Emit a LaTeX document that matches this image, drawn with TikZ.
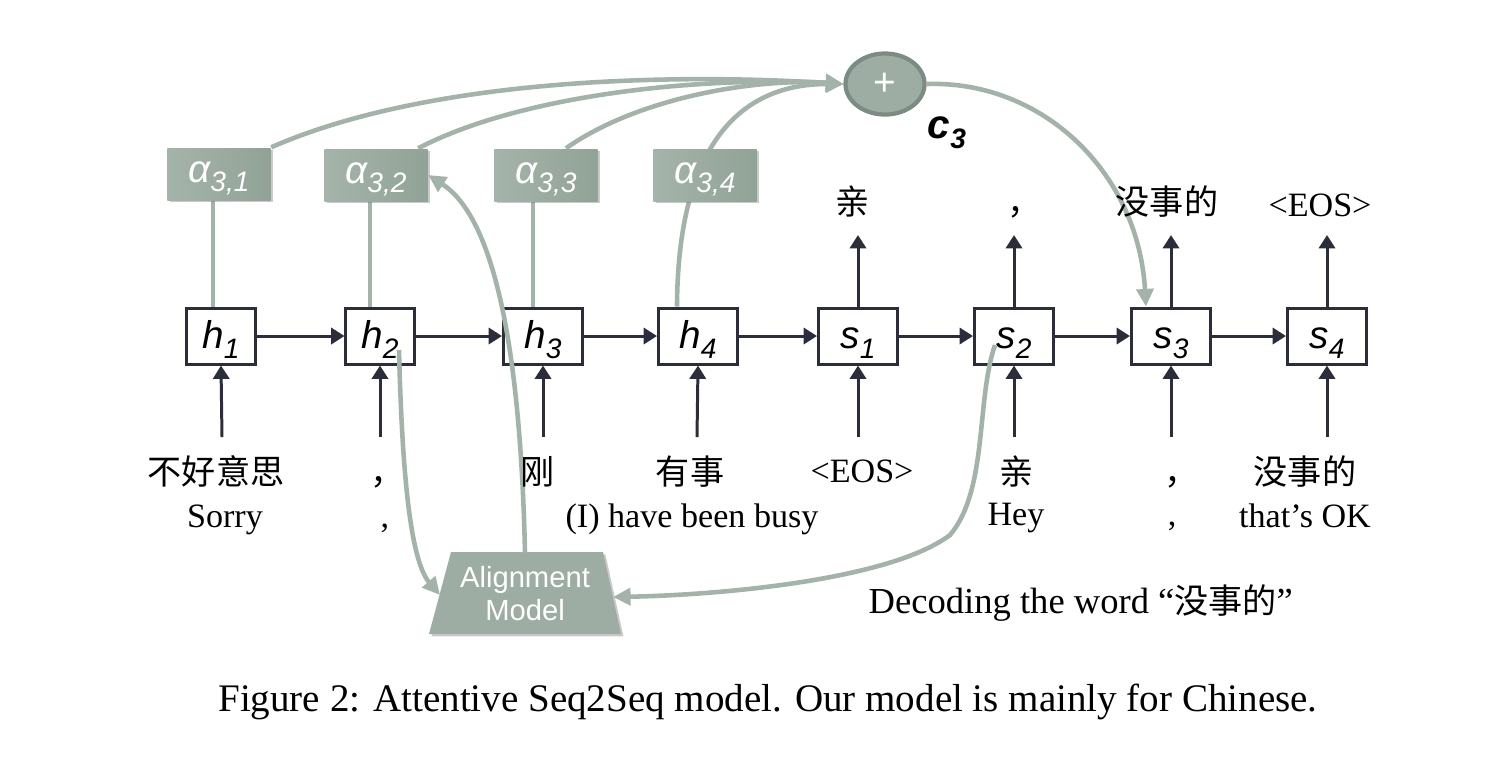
\documentclass[tikz,border=0pt]{standalone}
\usepackage{fontspec}
\setmainfont{Liberation Serif}
\setsansfont{Liberation Sans}
\newfontfamily\cjk{Noto Sans CJK SC}
\usetikzlibrary{arrows.meta,shadows,shapes.geometric}
\definecolor{dk}{HTML}{2B2E3A}
\definecolor{gl}{HTML}{A3B3A9}
\definecolor{gf}{HTML}{9DADA3}
\definecolor{gfl}{HTML}{A5B4AA}
\definecolor{gfd}{HTML}{91A297}
\definecolor{gb}{HTML}{7C8C82}
\pgfdeclarelayer{bg}\pgfsetlayers{bg,main}
\newcommand\mysub[1]{\raisebox{-0.45ex}{\fontsize{8}{9}\selectfont #1}}
\begin{document}
\begin{tikzpicture}[x=0.01cm,y=-0.01cm,
  cell/.style={draw=dk,line width=0.85pt,fill=white,minimum height=0.56cm,inner sep=0pt,
    text height=0.73em,text depth=0pt,
    font=\sffamily\itshape\fontsize{11}{13}\selectfont},
  abox/.style={left color=gfl,right color=gfd,minimum width=1.03cm,minimum height=0.52cm,inner sep=0pt,
    text height=1ex,text depth=0pt,
    text=white,font=\sffamily\itshape\fontsize{11}{13}\selectfont,
    drop shadow={shadow xshift=0.7pt,shadow yshift=-0.7pt,opacity=0.35,fill=black!60}},
  darr/.style={draw=dk,line width=0.85pt,-{Triangle[length=3.8pt,width=4.6pt]}},
  gline/.style={draw=gl,line width=1.3pt},
  garr/.style={draw=gl,line width=1.3pt,-{Triangle[length=5pt,width=4.8pt]}},
  lab/.style={inner sep=0pt,anchor=base,font=\fontsize{9.7}{11}\selectfont},
  cjklab/.style={lab,font=\cjk\fontsize{9.7}{11}\selectfont},
]
\useasboundingbox (0,0) rectangle (1488,756);

% encoder / decoder cells
\node[cell,minimum width=0.68cm] (h1) at (221,336) {h\mysub{1}};
\node[cell,minimum width=0.68cm] (h2) at (380,336) {h\mysub{2}};
\node[cell,minimum width=0.79cm] (h3) at (543,336) {h\mysub{3}};
\node[cell,minimum width=0.79cm] (h4) at (698,336) {h\mysub{4}};
\node[cell,minimum width=0.79cm] (s1) at (858,336) {s\mysub{1}};
\node[cell,minimum width=0.79cm] (s2) at (1014,336) {s\mysub{2}};
\node[cell,minimum width=0.79cm] (s3) at (1171,336) {s\mysub{3}};
\node[cell,minimum width=0.79cm] (s4) at (1327,336) {s\mysub{4}};

% attention weight boxes
\node[abox] (a1) at (219,174) {α\mysub{3,1}};
\node[abox] (a2) at (376,175) {α\mysub{3,2}};
\node[abox] (a3) at (546,175) {α\mysub{3,3}};
\node[abox] (a4) at (705,175) {α\mysub{3,4}};

% sum node
\node[ellipse,fill=gf,draw=gb,line width=1.2pt,minimum width=0.79cm,minimum height=0.61cm,inner sep=0pt,
  text=white,font=\sffamily\fontsize{11}{12}\selectfont] (plus) at (885,84) {+};
\node[inner sep=0pt,font=\sffamily\bfseries\itshape\fontsize{11.5}{13}\selectfont] (c3) at (947,133) {c\mysub{3}};

% alignment model
\fill[gf,drop shadow={shadow xshift=0.7pt,shadow yshift=-0.7pt,opacity=0.35,fill=black!60}]
  (451,552) -- (603,552) -- (621,634) -- (429,634) -- cycle;
\node[inner sep=0pt,align=center,text=white,font=\sffamily\fontsize{8.3}{9.4}\selectfont] (align) at (525,594) {Alignment\\Model};
\coordinate (alL) at (440,595);
\coordinate (alR) at (613,597);
\coordinate (alT) at (525,553);

% recurrent arrows
\draw[darr] (h1.east) -- (h2.west);
\draw[darr] (h2.east) -- (h3.west);
\draw[darr] (h3.east) -- (h4.west);
\draw[darr] (h4.east) -- (s1.west);
\draw[darr] (s1.east) -- (s2.west);
\draw[darr] (s2.east) -- (s3.west);
\draw[darr] (s3.east) -- (s4.west);

% inputs
\coordinate (i1) at (222,437);
\coordinate (i2) at (380,437);
\coordinate (i3) at (543,437);
\coordinate (i4) at (697,437);
\coordinate (i5) at (858,437);
\coordinate (i6) at (1014,437);
\coordinate (i7) at (1171,437);
\coordinate (i8) at (1327,437);
\draw[darr] (i1) -- (h1.south);
\draw[darr] (i2) -- (h2.south);
\draw[darr] (i3) -- (h3.south);
\draw[darr] (i4) -- (h4.south);
\draw[darr] (i5) -- (s1.south);
\draw[darr] (i6) -- (s2.south);
\draw[darr] (i7) -- (s3.south);
\draw[darr] (i8) -- (s4.south);

% outputs
\coordinate (o1) at (858,235);
\coordinate (o2) at (1014,235);
\coordinate (o3) at (1171,235);
\coordinate (o4) at (1327,235);
\draw[darr] (s1.north) -- (o1);
\draw[darr] (s2.north) -- (o2);
\draw[darr] (s3.north) -- (o3);
\draw[darr] (s4.north) -- (o4);

% attention lines (behind boxes)
\begin{pgfonlayer}{bg}
\draw[gline] ([xshift=-0.08cm]h1.north) -- ([xshift=-0.08cm]h1.north |- a1.south);
\draw[gline] ([xshift=-0.10cm]h2.north) -- ([xshift=-0.10cm]h2.north |- a2.south);
\draw[gline] ([xshift=-0.10cm]h3.north) -- ([xshift=-0.10cm]h3.north |- a3.south);
\draw[garr] (a1.north east) .. controls (420,82) and (650,72) .. (plus.west);
\draw[garr] ([xshift=-0.1cm]a2.north east) .. controls (520,95) and (700,76) .. (plus.west);
\draw[garr] ([xshift=0.2cm]a3.north) .. controls (640,96) and (760,78) .. (plus.west);
\draw[garr] ([xshift=-0.21cm]h4.north) .. controls (678,120) and (760,84) .. (plus.west);
\end{pgfonlayer}

% context to decoder
\draw[garr] (plus.east) .. controls (1040,80) and (1138,170) .. ([xshift=-0.25cm]s3.north);

% alignment model connections
\draw[garr] ([xshift=0.19cm,yshift=-0.14cm]h2.center) .. controls (402,470) and (410,560) .. (alL);
\draw[garr] (alT) .. controls (520,330) and (490,215) .. (a2.east);
\draw[garr] ([xshift=-0.19cm,yshift=-0.09cm]s2.center) .. controls (976,400) and (988,490) .. (950,535)
  .. controls (890,580) and (720,595) .. (alR);

% output words
\node[cjklab] (w1) at (853,214) {亲};
\node[cjklab] (w2) at (1025,214) {，};
\node[cjklab] (w3) at (1167,214) {没事的};
\node[lab] (w4) at (1320,216) {<EOS>};

% input words, row 1
\node[cjklab] (x1) at (216,484) {不好意思};
\node[cjklab] (x2) at (388,484) {，};
\node[cjklab] (x3) at (538,484) {刚};
\node[cjklab] (x4) at (690,484) {有事};
\node[lab] (x5) at (862,482) {<EOS>};
\node[cjklab] (x6) at (1017,484) {亲};
\node[cjklab] (x7) at (1182,484) {，};
\node[cjklab] (x8) at (1305,484) {没事的};

% input words, row 2 (English)
\node[lab] (e1) at (225,527) {Sorry};
\node[lab] (e2) at (385,527) {,};
\node[lab] (e3) at (692,527) {(I) have been busy};
\node[lab] (e4) at (1016,525) {Hey};
\node[lab] (e5) at (1172,525) {,};
\node[lab] (e6) at (1305,527) {that’s OK};

% note
\node[lab,anchor=base west,font=\fontsize{10.4}{12}\selectfont] (note) at (868,613) {Decoding the word “{\cjk\fontsize{9.7}{11}\selectfont 没事的}”};

% caption
\node[lab,font=\fontsize{11.1}{13}\selectfont] (cap) at (768,711) {Figure 2: Attentive Seq2Seq model. Our model is mainly for Chinese.};
\end{tikzpicture}
\end{document}
